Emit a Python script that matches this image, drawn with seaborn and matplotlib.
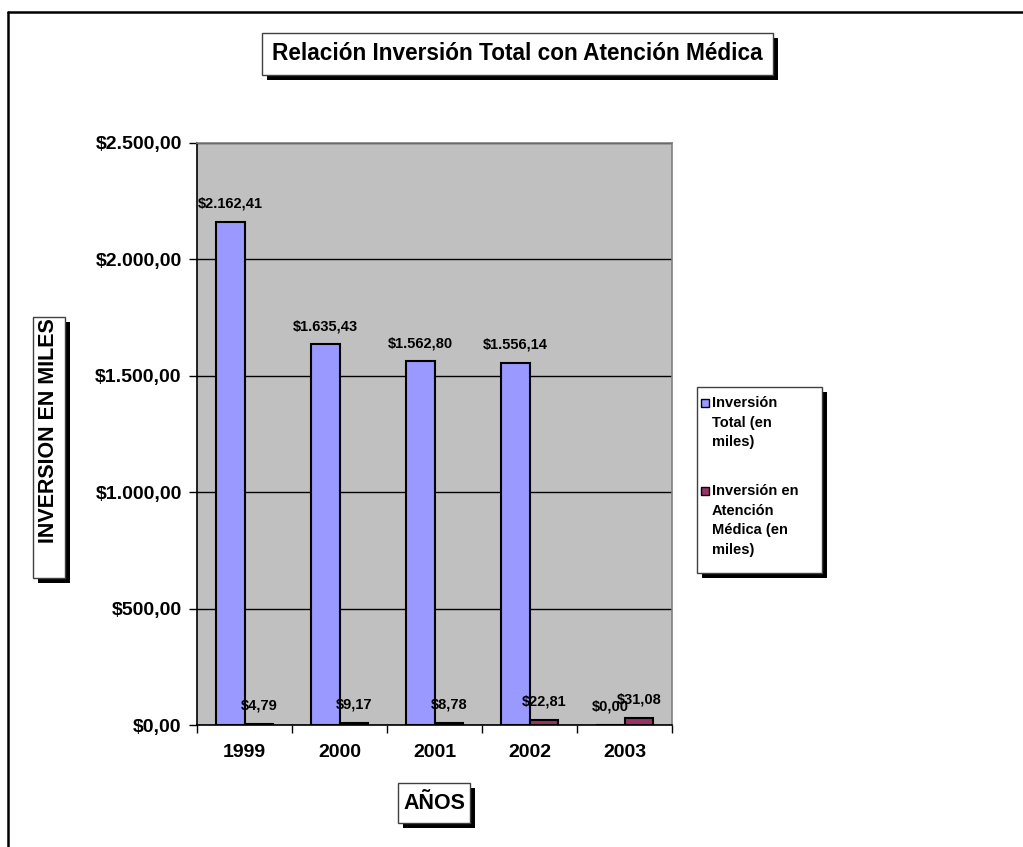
import matplotlib
matplotlib.use("Agg")
import matplotlib.pyplot as plt
from matplotlib.lines import Line2D
from matplotlib.patches import Rectangle
from matplotlib.ticker import FuncFormatter, MultipleLocator, FixedLocator
import pandas as pd
import seaborn as sns

# ---- data ----
years = ["1999", "2000", "2001", "2002", "2003"]
inversion_total = [2162.41, 1635.43, 1562.80, 1556.14, 0.00]
inversion_medica = [4.79, 9.17, 8.78, 22.81, 31.08]
series_names = ["Inversión Total (en miles)", "Inversión en Atención Médica (en miles)"]
legend_labels = ["Inversión\nTotal (en\nmiles)", "Inversión en\nAtención\nMédica (en\nmiles)"]
colors = ["#9999FF", "#993366"]

df = pd.DataFrame({
    "year": years * 2,
    "serie": [series_names[0]] * len(years) + [series_names[1]] * len(years),
    "valor": inversion_total + inversion_medica,
})


def pesos(v, pos=None):
    s = f"{v:,.2f}"
    s = s.replace(",", "X").replace(".", ",").replace("X", ".")
    return "$" + s


sns.set_theme(style="white")
plt.rcParams["font.family"] = ["Liberation Sans", "DejaVu Sans"]
plt.rcParams["font.weight"] = "bold"

W, H = 1023, 847
fig = plt.figure(figsize=(W / 100, H / 100), dpi=100)
fig.patch.set_facecolor("white")


def fx(px):
    return px / W


def fy(py):
    return 1 - py / H


ax = fig.add_axes([fx(197), fy(725), fx(672) - fx(197), fy(143) - fy(725)])
ax.set_facecolor("#C0C0C0")

sns.barplot(data=df, x="year", y="valor", hue="serie", palette=colors,
            width=0.6, edgecolor="black", linewidth=1.5, saturation=1,
            ax=ax, legend=False)

ax.set_ylim(0, 2500)
ax.set_xlim(-0.5, len(years) - 0.5)
ax.yaxis.set_major_locator(MultipleLocator(500))
ax.yaxis.set_major_formatter(FuncFormatter(pesos))
ax.grid(axis="y", color="black", linewidth=1)
ax.set_axisbelow(True)

# ticks sit on the category boundaries
ax.xaxis.set_minor_locator(FixedLocator([i - 0.5 for i in range(len(years) + 1)]))
ax.tick_params(axis="x", which="major", length=0, pad=14, labelsize=14)
ax.tick_params(axis="x", which="minor", length=6, width=1, color="black", direction="out", bottom=True)
ax.tick_params(axis="y", which="major", length=6, width=1, color="black", direction="out", left=True,
               pad=5, labelsize=14)
for lbl in ax.get_xticklabels() + ax.get_yticklabels():
    lbl.set_fontweight("bold")
    lbl.set_color("black")

ax.set_xlabel("")
ax.set_ylabel("")
for side in ["left", "bottom"]:
    ax.spines[side].set_color("black")
    ax.spines[side].set_linewidth(1.2)
for side in ["top", "right"]:
    ax.spines[side].set_color("#808080")
    ax.spines[side].set_linewidth(1.2)

# value labels above each bar
for cont in ax.containers:
    ax.bar_label(cont, labels=[pesos(v) for v in cont.datavalues], padding=8,
                 fontsize=10.5, fontweight="bold", color="black")


def shadow_box(x0, y0, x1, y1, off=5):
    """White box with a solid black drop shadow, given in pixel coords (top-left origin)."""
    fig.add_artist(Rectangle((fx(x0 + off), fy(y1 + off)), fx(x1) - fx(x0), fy(y0) - fy(y1),
                             transform=fig.transFigure, facecolor="black", edgecolor="black",
                             linewidth=0, zorder=3))
    fig.add_artist(Rectangle((fx(x0), fy(y1)), fx(x1) - fx(x0), fy(y0) - fy(y1),
                             transform=fig.transFigure, facecolor="white", edgecolor="#404040",
                             linewidth=1, zorder=4))


# title
shadow_box(262, 33, 773, 75)
fig.text(fx(517), fy(54), "Relación Inversión Total con Atención Médica", ha="center", va="center",
         fontsize=16.3, fontweight="bold", color="black", zorder=5)

# y-axis title
shadow_box(33, 317, 65, 578)
fig.text(fx(49), fy(431), "INVERSION EN MILES", ha="center", va="center", rotation=90,
         fontsize=15.5, fontweight="bold", color="black", zorder=5)

# x-axis title
shadow_box(398, 783, 470, 823)
fig.text(fx(434), fy(803), "AÑOS", ha="center", va="center",
         fontsize=15.5, fontweight="bold", color="black", zorder=5)

# legend
shadow_box(697, 387, 822, 573)
for color, label, ytop in zip(colors, legend_labels, [403, 491]):
    fig.add_artist(Rectangle((fx(701), fy(ytop + 4)), fx(709) - fx(701), fy(ytop - 4) - fy(ytop + 4),
                             transform=fig.transFigure, facecolor=color, edgecolor="black",
                             linewidth=1, zorder=5))
    fig.text(fx(712), fy(ytop - 7), label, ha="left", va="top", linespacing=1.52,
             fontsize=10.5, fontweight="bold", color="black", zorder=5)

# outer frame (top and left edges)
fig.add_artist(Line2D([fx(8), fx(8)], [0, fy(12)], color="black", linewidth=1.8,
                      transform=fig.transFigure))
fig.add_artist(Line2D([fx(8), 1], [fy(12), fy(12)], color="black", linewidth=1.8,
                      transform=fig.transFigure))

fig.savefig("out.png", dpi=100, facecolor="white")
